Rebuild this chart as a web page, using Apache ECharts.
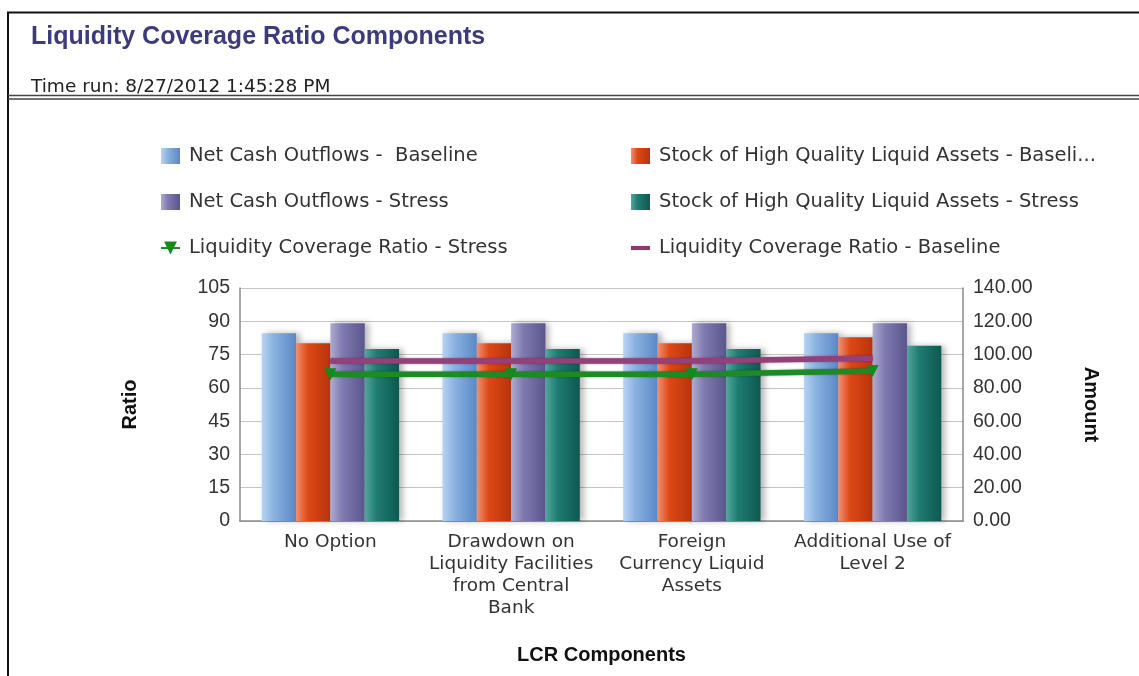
<!DOCTYPE html>
<html>
<head>
<meta charset="utf-8">
<script src="https://cdn.jsdelivr.net/npm/echarts@6/dist/echarts.min.js"></script>
<style>
  html, body { margin: 0; padding: 0; background: #ffffff; }
  #chart { width: 1139px; height: 676px; }
</style>
</head>
<body>
<div id="chart"></div>
<script>
// LCR scenarios on the category axis
const categories = [
  'No Option',
  'Drawdown on\nLiquidity Facilities\nfrom Central\nBank',
  'Foreign\nCurrency Liquid\nAssets',
  'Additional Use of\nLevel 2'
];

// Amounts (right axis)
const netCashOutflowsBaseline = [112.8, 112.8, 112.8, 112.8];
const hqlaBaseline            = [106.8, 106.8, 106.8, 110.4];
const netCashOutflowsStress   = [118.8, 118.8, 118.8, 118.8];
const hqlaStress              = [103.4, 103.4, 103.4, 105.3];

// Coverage ratios (%)
const lcrStress   = [88.2, 88.2, 88.2, 90.2];
const lcrBaseline = [96.1, 96.1, 96.1, 97.8];

const seriesNames = {
  ncoBase: 'Net Cash Outflows -  Baseline',
  hqlaBase: 'Stock of High Quality Liquid Assets - Baseline',
  ncoStress: 'Net Cash Outflows - Stress',
  hqlaStress: 'Stock of High Quality Liquid Assets - Stress',
  lcrStress: 'Liquidity Coverage Ratio - Stress',
  lcrBase: 'Liquidity Coverage Ratio - Baseline'
};

// Legend entries longer than this are cut with an ellipsis
const LEGEND_MAX_CHARS = 44;

const ARIAL = '"Liberation Sans", Arial, sans-serif';
const WIDE = '"DejaVu Sans", Verdana, sans-serif';

function barFill(light, mid, dark) {
  return new echarts.graphic.LinearGradient(0, 0, 1, 0, [
    { offset: 0, color: light },
    { offset: 0.35, color: mid },
    { offset: 1, color: dark }
  ]);
}

function barSeries(name, data, light, mid, dark) {
  return {
    name: name,
    type: 'bar',
    yAxisIndex: 1,
    data: data,
    barGap: '0%',
    barCategoryGap: '24%',
    itemStyle: {
      color: barFill(light, mid, dark),
      shadowColor: 'rgba(0,0,0,0.28)',
      shadowBlur: 6,
      shadowOffsetX: 4,
      shadowOffsetY: 0
    },
    z: 2
  };
}

const legendText = { fontFamily: WIDE, fontSize: 19.5, color: '#333', lineHeight: 18, padding: [0, 0, 0, 4] };
const legendFormatter = name =>
  name.length > LEGEND_MAX_CHARS ? name.slice(0, LEGEND_MAX_CHARS) + '...' : name;

const chart = echarts.init(document.getElementById('chart'), null, { renderer: 'canvas' });

chart.setOption({
  animation: false,
  backgroundColor: '#ffffff',
  title: [
    {
      text: 'Liquidity Coverage Ratio Components',
      left: 26, top: 20,
      textStyle: { fontFamily: ARIAL, fontSize: 25, fontWeight: 'bold', color: '#3b3b7e' }
    },
    {
      text: 'Time run: 8/27/2012 1:45:28 PM',
      left: 26, top: 73,
      textStyle: { fontFamily: WIDE, fontSize: 18.5, fontWeight: 'normal', color: '#222' }
    }
  ],
  graphic: [
    { type: 'line', shape: { x1: 7, y1: 12.5, x2: 1139, y2: 12.5 }, style: { stroke: '#111', lineWidth: 2 } },
    { type: 'line', shape: { x1: 8, y1: 12, x2: 8, y2: 676 }, style: { stroke: '#111', lineWidth: 2 } },
    { type: 'line', shape: { x1: 8, y1: 95.5, x2: 1139, y2: 95.5 }, style: { stroke: '#444', lineWidth: 1.5 } },
    { type: 'line', shape: { x1: 8, y1: 99, x2: 1139, y2: 99 }, style: { stroke: '#444', lineWidth: 1.5 } }
  ],
  legend: [
    {
      orient: 'vertical', left: 155, top: 141, itemGap: 26,
      itemWidth: 19, itemHeight: 16,
      textStyle: legendText,
      formatter: legendFormatter,
      data: [
        { name: seriesNames.ncoBase, icon: 'rect' },
        { name: seriesNames.ncoStress, icon: 'rect' },
        { name: seriesNames.lcrStress }
      ]
    },
    {
      orient: 'vertical', left: 626, top: 141, itemGap: 26,
      itemWidth: 19, itemHeight: 16,
      textStyle: legendText,
      formatter: legendFormatter,
      data: [
        { name: seriesNames.hqlaBase, icon: 'rect' },
        { name: seriesNames.hqlaStress, icon: 'rect' },
        { name: seriesNames.lcrBase, icon: 'path://M0,0H16V3.5H0Z' }
      ]
    }
  ],
  grid: { left: 240, right: 176, top: 288, bottom: 155, containLabel: false },
  xAxis: {
    type: 'category',
    data: categories,
    name: 'LCR Components',
    nameLocation: 'middle',
    nameGap: 124,
    nameTextStyle: { fontFamily: ARIAL, fontSize: 20, fontWeight: 'bold', color: '#111' },
    axisLine: { lineStyle: { color: '#8a8a8a', width: 1.5 } },
    axisTick: { show: false },
    axisLabel: { fontFamily: WIDE, fontSize: 18.5, color: '#333', lineHeight: 22, margin: 10, interval: 0 }
  },
  yAxis: [
    {
      type: 'value',
      min: 0, max: 105, interval: 15,
      name: 'Ratio',
      nameLocation: 'middle',
      nameGap: 100,
      nameTextStyle: { fontFamily: ARIAL, fontSize: 20, fontWeight: 'bold', color: '#111' },
      axisLine: { show: true, lineStyle: { color: '#8a8a8a', width: 1.5 } },
      axisTick: { show: false },
      axisLabel: { fontFamily: ARIAL, fontSize: 19.5, color: '#333', margin: 10 },
      splitLine: { lineStyle: { color: '#c4c4c4', width: 1 } }
    },
    {
      type: 'value',
      min: 0, max: 140, interval: 20,
      name: 'Amount',
      nameLocation: 'middle',
      nameRotate: -90,
      nameGap: 118,
      nameTextStyle: { fontFamily: ARIAL, fontSize: 20, fontWeight: 'bold', color: '#111' },
      axisLine: { show: true, lineStyle: { color: '#8a8a8a', width: 1.5 } },
      axisTick: { show: false },
      axisLabel: {
        fontFamily: ARIAL, fontSize: 19.5, color: '#333', margin: 10,
        formatter: v => v.toFixed(2)
      },
      splitLine: { show: false }
    }
  ],
  series: [
    barSeries(seriesNames.ncoBase, netCashOutflowsBaseline, '#b8d3f2', '#8ab2e0', '#5b88c6'),
    barSeries(seriesNames.hqlaBase, hqlaBaseline, '#f09070', '#dc4816', '#b8340c'),
    barSeries(seriesNames.ncoStress, netCashOutflowsStress, '#aeacd0', '#7f7bb0', '#5a568e'),
    barSeries(seriesNames.hqlaStress, hqlaStress, '#52a69c', '#1f7c72', '#0e5850'),
    {
      name: seriesNames.lcrStress,
      type: 'line',
      yAxisIndex: 1,
      data: lcrStress,
      symbol: 'triangle',
      symbolRotate: 180,
      symbolSize: 12,
      lineStyle: { color: '#1d8a26', width: 5.5, shadowColor: 'rgba(0,60,0,0.5)', shadowBlur: 2 },
      itemStyle: { color: '#128a1c' },
      z: 5
    },
    {
      name: seriesNames.lcrBase,
      type: 'line',
      yAxisIndex: 1,
      data: lcrBaseline,
      symbol: 'none',
      lineStyle: { color: '#94407a', width: 5.5, shadowColor: 'rgba(70,0,40,0.5)', shadowBlur: 2 },
      itemStyle: { color: '#8e3a72' },
      z: 5
    }
  ]
});
</script>
</body>
</html>
